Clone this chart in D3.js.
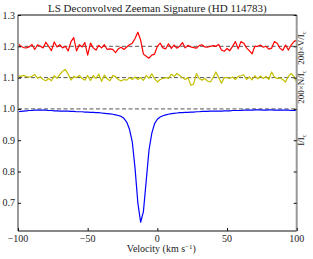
<!DOCTYPE html>
<html>
<head>
<meta charset="utf-8">
<script src="https://cdn.jsdelivr.net/npm/d3@7"></script>
<style>
  body { margin: 0; background: #fff; }
  text { font-family: "Liberation Serif", "DejaVu Serif", serif; fill: #222; }
</style>
</head>
<body>
<svg id="chart" width="313" height="259"></svg>
<script>
// velocity grid (km/s), step 2
const velocity = d3.range(-100, 101, 2);

// Stokes V, offset +1.2 (200 x V/Ic)
const stokesV = [
  1.210, 1.200, 1.196, 1.195, 1.198, 1.206, 1.190, 1.205, 1.200, 1.195,
  1.213, 1.200, 1.186, 1.214, 1.198, 1.205, 1.195, 1.200, 1.185, 1.215,
  1.228, 1.185, 1.205, 1.198, 1.212, 1.172, 1.210, 1.195, 1.188, 1.203,
  1.195, 1.205, 1.190, 1.192, 1.190, 1.180, 1.192, 1.197, 1.190, 1.198,
  1.205, 1.210, 1.225, 1.245, 1.220, 1.175, 1.168, 1.162, 1.172, 1.175,
  1.200, 1.210, 1.195, 1.192, 1.208, 1.193, 1.204, 1.194, 1.200, 1.212,
  1.195, 1.203, 1.198, 1.196, 1.194, 1.202, 1.205, 1.198, 1.197, 1.200,
  1.202, 1.200, 1.206, 1.188, 1.184, 1.193, 1.186, 1.200, 1.215, 1.192,
  1.215, 1.210, 1.195, 1.186, 1.176, 1.200, 1.200, 1.204, 1.197, 1.200,
  1.191, 1.194, 1.215, 1.210, 1.194, 1.187, 1.204, 1.188, 1.204, 1.215,
  1.220
];

// null profile N, offset +1.1 (200 x N/Ic)
const nullN = [
  1.107, 1.104, 1.107, 1.103, 1.102, 1.104, 1.110, 1.098, 1.103, 1.094,
  1.090, 1.097, 1.090, 1.106, 1.098, 1.110, 1.120, 1.126, 1.111, 1.092,
  1.104, 1.100, 1.107, 1.097, 1.092, 1.107, 1.091, 1.107, 1.097, 1.111,
  1.088, 1.108, 1.096, 1.090, 1.107, 1.103, 1.094, 1.089, 1.094, 1.092,
  1.100, 1.094, 1.102, 1.094, 1.100, 1.091, 1.107, 1.098, 1.112, 1.097,
  1.086, 1.094, 1.097, 1.100, 1.097, 1.111, 1.104, 1.113, 1.107, 1.100,
  1.094, 1.100, 1.076, 1.079, 1.113, 1.097, 1.092, 1.097, 1.089, 1.086,
  1.100, 1.118, 1.100, 1.082, 1.100, 1.100, 1.097, 1.102, 1.094, 1.104,
  1.106, 1.109, 1.094, 1.102, 1.093, 1.106, 1.096, 1.105, 1.097, 1.104,
  1.094, 1.118, 1.102, 1.097, 1.099, 1.094, 1.086, 1.104, 1.113, 1.104,
  1.085
];

// Stokes I (I/Ic)
const stokesI = [
  0.991, 0.992, 0.993, 0.994, 0.995, 0.995, 0.996, 0.996, 0.996, 0.996,
  0.996, 0.995, 0.995, 0.994, 0.994, 0.993, 0.993, 0.993, 0.993, 0.992,
  0.992, 0.991, 0.991, 0.991, 0.990, 0.990, 0.989, 0.989, 0.988, 0.988,
  0.987, 0.986, 0.985, 0.984, 0.983, 0.981, 0.979, 0.976, 0.970, 0.958,
  0.935, 0.895, 0.810, 0.700, 0.638, 0.672, 0.770, 0.868, 0.922, 0.953,
  0.967, 0.974, 0.978, 0.981, 0.983, 0.985, 0.986, 0.987, 0.988, 0.988,
  0.989, 0.989, 0.990, 0.990, 0.991, 0.991, 0.992, 0.992, 0.992, 0.993,
  0.993, 0.993, 0.993, 0.993, 0.994, 0.994, 0.994, 0.995, 0.995, 0.995,
  0.995, 0.996, 0.996, 0.996, 0.996, 0.997, 0.997, 0.997, 0.996, 0.996,
  0.997, 0.997, 0.996, 0.996, 0.996, 0.996, 0.996, 0.996, 0.995, 0.995,
  0.995
];

const refLevels = [1.2, 1.1, 1.0];
const xTicks = [-100, -50, 0, 50, 100];
const yTicks = [0.7, 0.8, 0.9, 1.0, 1.1, 1.2, 1.3];

const svg = d3.select("#chart");
const plotLeft = 18, plotRight = 296.7, plotTop = 15, plotBottom = 231;

const x = d3.scaleLinear().domain([-100, 100]).range([plotLeft, plotRight]);
const y = d3.scaleLinear().domain([0.61, 1.3]).range([plotBottom, plotTop]);

//dashed reference lines
svg.selectAll(".ref").data(refLevels).enter().append("line")
    .attr("x1", plotLeft).attr("x2", plotRight)
    .attr("y1", d => y(d)).attr("y2", d => y(d))
    .attr("stroke", "#555")
    .attr("stroke-width", 1)
    .attr("stroke-dasharray", "4,2.5");

//curves
const line = d3.line().x((d, i) => x(velocity[i])).y(d => y(d));
const series = [
    { values: stokesV, color: "#ff0000" },
    { values: nullN, color: "#c4c000" },
    { values: stokesI, color: "#0000ff" }
];
series.forEach(s => {
    svg.append("path")
        .attr("d", line(s.values))
        .attr("fill", "none")
        .attr("stroke", s.color)
        .attr("stroke-width", 1.2)
        .attr("stroke-linejoin", "round");
});

//spines
svg.append("line").attr("x1", plotLeft).attr("x2", plotRight).attr("y1", plotTop).attr("y2", plotTop)
    .attr("stroke", "#111").attr("stroke-width", 1);
svg.append("line").attr("x1", plotLeft).attr("x2", plotRight).attr("y1", plotBottom).attr("y2", plotBottom)
    .attr("stroke", "#111").attr("stroke-width", 1);
svg.append("line").attr("x1", plotLeft).attr("x2", plotLeft).attr("y1", plotTop).attr("y2", plotBottom)
    .attr("stroke", "#999").attr("stroke-width", 2);
svg.append("line").attr("x1", plotRight).attr("x2", plotRight).attr("y1", plotTop).attr("y2", plotBottom)
    .attr("stroke", "#999").attr("stroke-width", 2);

//x axis (ticks inward)
const xAxis = svg.append("g")
    .attr("transform", "translate(0," + plotBottom + ")")
    .call(d3.axisTop(x).tickValues(xTicks).tickSize(3).tickFormat(""));
xAxis.select(".domain").remove();
xAxis.selectAll("line").attr("stroke", "#111");
svg.selectAll(".xlab").data(xTicks).enter().append("text")
    .attr("x", d => x(d))
    .attr("y", 242)
    .attr("text-anchor", "middle")
    .attr("font-size", "10px")
    .text(d => d3.format("d")(d).replace("-", "\u2212"));

//y axis (ticks inward)
const yAxis = svg.append("g")
    .attr("transform", "translate(" + plotLeft + ",0)")
    .call(d3.axisRight(y).tickValues(yTicks).tickSize(3).tickFormat(""));
yAxis.select(".domain").remove();
yAxis.selectAll("line").attr("stroke", "#111");
const yAxisR = svg.append("g")
    .attr("transform", "translate(" + plotRight + ",0)")
    .call(d3.axisLeft(y).tickValues(yTicks).tickSize(3).tickFormat(""));
yAxisR.select(".domain").remove();
yAxisR.selectAll("line").attr("stroke", "#111");
svg.selectAll(".ylab").data(yTicks).enter().append("text")
    .attr("x", 15)
    .attr("y", d => y(d) + 3.5)
    .attr("text-anchor", "end")
    .attr("font-size", "10px")
    .text(d => d3.format(".1f")(d));

//title + axis label
svg.append("text")
    .attr("x", (plotLeft + plotRight) / 2)
    .attr("y", 12)
    .attr("text-anchor", "middle")
    .attr("font-size", "11px")
    .text("LS Deconvolved Zeeman Signature (HD 114783)");

const xl = svg.append("text")
    .attr("x", (plotLeft + plotRight) / 2 + 4)
    .attr("y", 252)
    .attr("text-anchor", "middle")
    .attr("font-size", "10px");
xl.append("tspan").text("Velocity (km s");
xl.append("tspan").attr("dy", -3.5).attr("font-size", "7px").text("\u22121");
xl.append("tspan").attr("dy", 3.5).text(")");

//right side labels
const rightLabels = [
    { main: "200\u00d7V/I", level: 48 },
    { main: "200\u00d7N/I", level: 87 },
    { main: "I/I", level: 140 }
];
rightLabels.forEach(l => {
    const t = svg.append("text")
        .attr("transform", "translate(304," + l.level + ") rotate(-90)")
        .attr("text-anchor", "middle")
        .attr("font-size", "9px");
    t.append("tspan").text(l.main);
    t.append("tspan").attr("dy", 2).attr("font-size", "6.5px").text("c");
});
</script>
</body>
</html>
